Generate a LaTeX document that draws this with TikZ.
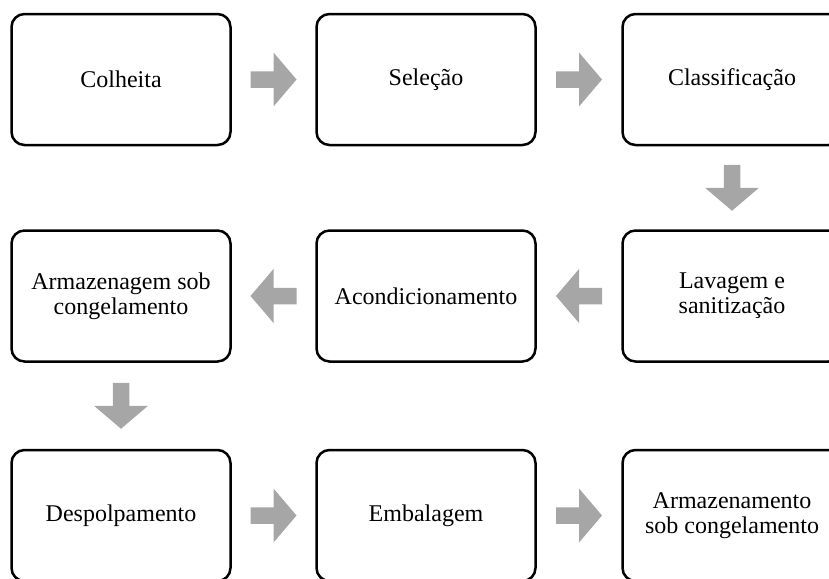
\documentclass[tikz,border=0pt]{standalone}
\usepackage{fontspec}
\setmainfont{Liberation Serif}
\usetikzlibrary{calc}
\definecolor{arrowgray}{RGB}{166,166,166}
\begin{document}
\begin{tikzpicture}[x=0.5pt,y=-0.5pt,
  stepbox/.style={draw=black, line width=1.25pt, rounded corners=6.5pt,
    minimum width=109.5pt, minimum height=65.5pt, inner sep=0pt,
    align=center, font=\fontsize{12}{12.5}\selectfont},
  blockarrow/.pic={\fill[arrowgray] (-23,-8.25) -- (0,-8.25) -- (0,-27) -- (23,0)
    -- (0,27) -- (0,8.25) -- (-23,8.25) -- cycle;}]
\useasboundingbox (0,0) rectangle (829,578);
\clip (0,0) rectangle (829,578);
\node[stepbox] (n1) at (121,79.5) {Colheita};
\node[stepbox] (n2) at (426,79.5) {Seleção};
\node[stepbox] (n3) at (732,79.5) {Classificação};
\node[stepbox] (n4) at (732,296) {Lavagem e\\sanitização};
\node[stepbox] (n5) at (426,296) {Acondicionamento};
\node[stepbox] (n6) at (121,296) {Armazenagem sob\\congelamento};
\node[stepbox] (n7) at (121,515.5) {Despolpamento};
\node[stepbox] (n8) at (426,515.5) {Embalagem};
\node[stepbox] (n9) at (732,515.5) {Armazenamento\\sob congelamento};
\pic at ($(n1.east)!.5!(n2.west)$) {blockarrow};
\pic at ($(n2.east)!.5!(n3.west)$) {blockarrow};
\pic[rotate=-90] at ($(n3.south)!.5!(n4.north)$) {blockarrow};
\pic[rotate=180] at ($(n4.west)!.5!(n5.east)$) {blockarrow};
\pic[rotate=180] at ($(n5.west)!.5!(n6.east)$) {blockarrow};
\pic[rotate=-90] at ($(n6.south)!.5!(n7.north)$) {blockarrow};
\pic at ($(n7.east)!.5!(n8.west)$) {blockarrow};
\pic at ($(n8.east)!.5!(n9.west)$) {blockarrow};
\end{tikzpicture}
\end{document}
